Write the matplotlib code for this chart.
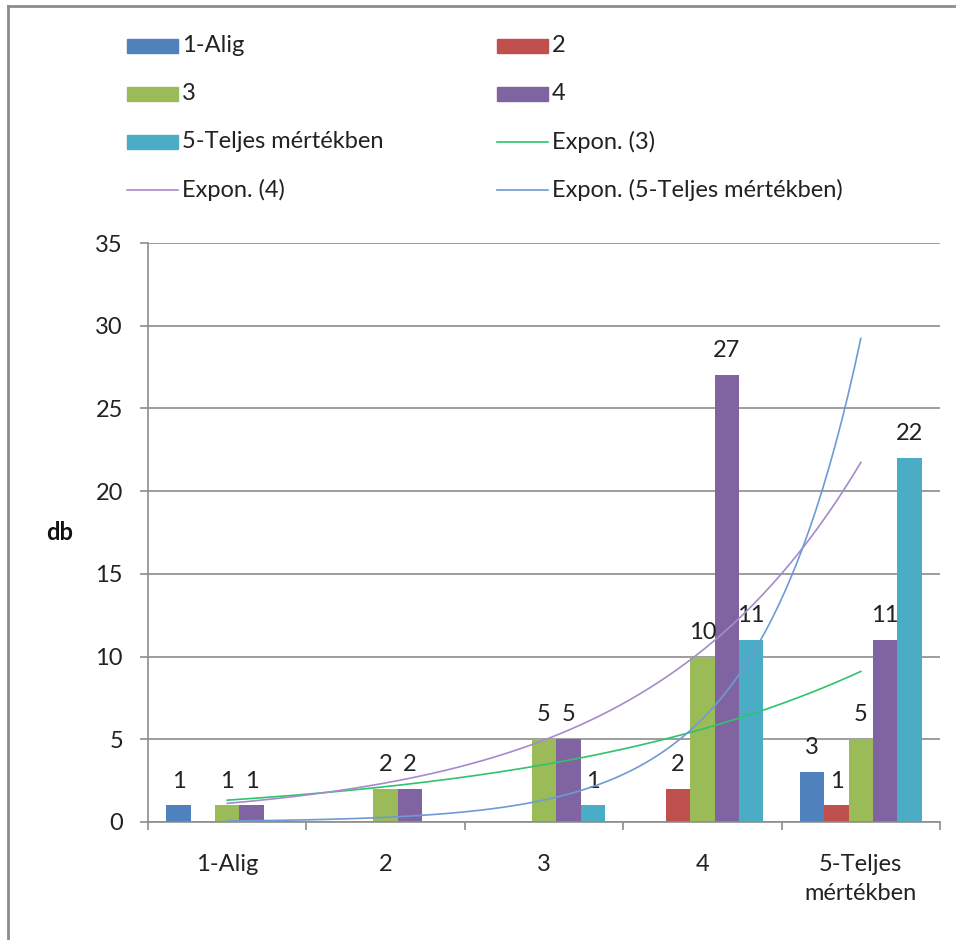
import numpy as np
import matplotlib
matplotlib.use("Agg")
import matplotlib.pyplot as plt
from matplotlib.patches import Rectangle
from matplotlib.lines import Line2D

plt.rcParams['font.family'] = ['Lato', 'DejaVu Sans']
FS = 17

categories = ['1-Alig', '2', '3', '4', '5-Teljes\nmértékben']
series_names = ['1-Alig', '2', '3', '4', '5-Teljes mértékben']
s1 = [1, 0, 0, 0, 3]
s2 = [0, 0, 0, 2, 1]
s3 = [1, 2, 5, 10, 5]
s4 = [1, 2, 5, 27, 11]
s5 = [0, 0, 1, 11, 22]
series = [s1, s2, s3, s4, s5]
bar_colors = ['#4F81BD', '#C0504D', '#9BBB59', '#8064A2', '#4BACC6']

# trendlines (exponential, excel-style fit on the positive values)
trend_series = [2, 3, 4]
trend_colors = ['#2EC46A', '#A58BCB', '#6E9AD6']

W, H = 956, 940
fig = plt.figure(figsize=(W / 100, H / 100), dpi=100)
ax = fig.add_axes([148 / W, 1 - 822 / H, 792 / W, 579 / H])

x = np.arange(1, len(categories) + 1)
bw = 1 / 6.5
for i, (vals, col) in enumerate(zip(series, bar_colors)):
    pos = x + (i - 2) * bw
    ax.bar(pos, vals, width=bw, color=col, zorder=2)
    for px, v in zip(pos, vals):
        if v > 0:
            ax.annotate(str(v), (px, v), xytext=(0, 10), textcoords='offset points',
                        ha='center', va='bottom', fontsize=FS, color='#222222')

xs = np.linspace(1, 5, 200)
for si, col in zip(trend_series, trend_colors):
    vals = np.array(series[si], dtype=float)
    m = vals > 0
    b, lna = np.polyfit(x[m], np.log(vals[m]), 1)
    ax.plot(xs, np.exp(lna + b * xs), color=col, lw=1.2, zorder=3)

ax.set_xlim(0.5, 5.5)
ax.set_ylim(0, 35)
ax.set_yticks(np.arange(0, 36, 5))
ax.yaxis.grid(True, color='#8C8C8C', lw=1.2, zorder=0)
ax.set_axisbelow(True)
ax.set_xticks(np.arange(0.5, 5.6, 1))
ax.set_xticklabels([])
ax.set_xticks(x, minor=True)
ax.set_xticklabels(categories, minor=True, fontsize=FS, color='#222222', linespacing=1.5)
ax.tick_params(axis='x', which='major', length=6, color='#8C8C8C', width=1.2)
ax.tick_params(axis='x', which='minor', length=0, pad=23)
ax.tick_params(axis='y', length=6, color='#8C8C8C', width=1.2, labelsize=FS,
               labelcolor='#222222', pad=12)
for s in ['top', 'right']:
    ax.spines[s].set_visible(False)
for s in ['left', 'bottom']:
    ax.spines[s].set_color('#8C8C8C')
    ax.spines[s].set_linewidth(1.2)

fig.text(60 / W, 1 - 533 / H, 'db', fontsize=FS, fontweight='bold',
         ha='center', va='center', color='#111111')

# legend, two columns filled row by row like excel
entries = [(n, 'bar', c) for n, c in zip(series_names, bar_colors)]
entries += [('Expon. (%s)' % series_names[si], 'line', c)
            for si, c in zip(trend_series, trend_colors)]
for k, (lab, kind, col) in enumerate(entries):
    cx = 127 + (k % 2) * 370
    cy = 46 + (k // 2) * 48
    if kind == 'bar':
        fig.add_artist(Rectangle((cx / W, 1 - (cy + 7) / H), 51 / W, 14 / H,
                                 transform=fig.transFigure, color=col))
    else:
        fig.add_artist(Line2D([cx / W, (cx + 51) / W], [1 - cy / H, 1 - cy / H],
                              transform=fig.transFigure, color=col, lw=1.2))
    fig.text((cx + 55) / W, 1 - cy / H, lab, fontsize=FS, ha='left', va='center',
             color='#222222')

# chart frame
fig.add_artist(Line2D([8 / W, 1], [1 - 6 / H, 1 - 6 / H], transform=fig.transFigure,
                      color='#8C8C8C', lw=2))
fig.add_artist(Line2D([8 / W, 8 / W], [0, 1 - 6 / H], transform=fig.transFigure,
                      color='#8C8C8C', lw=2))

fig.savefig('out.png', dpi=100, facecolor='white')
